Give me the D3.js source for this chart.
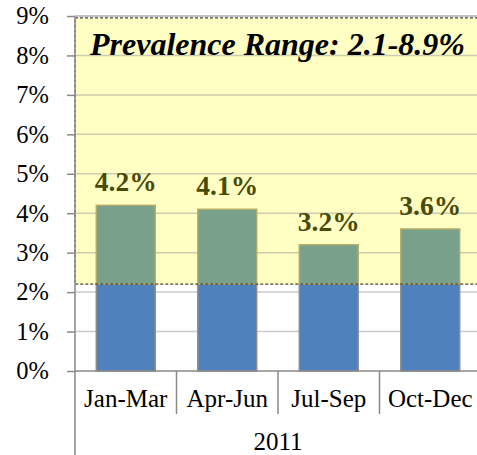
<!DOCTYPE html>
<html>
<head>
<meta charset="UTF-8">
<script src="https://cdn.jsdelivr.net/npm/d3@7"></script>
<style>
  body { margin: 0; background: #fff; }
  svg text { font-family: 'Liberation Serif', 'Times New Roman', serif; }
</style>
</head>
<body>
<div id="chart"></div>
<script>
var categories = ["Jan-Mar", "Apr-Jun", "Jul-Sep", "Oct-Dec"];
var totals = [4.2, 4.1, 3.2, 3.6];
var baseValues = [2.2, 2.2, 2.2, 2.2];
var rangeBand = [2.2, 8.95];
var yTicks = [0, 1, 2, 3, 4, 5, 6, 7, 8, 9];
var groupLabel = "2011";
var rangeTitle = "Prevalence Range: 2.1-8.9%";

var W = 477, H = 455;
var svg = d3.select("#chart").append("svg").attr("width", W).attr("height", H);

var y = d3.scaleLinear().domain([0, 9]).range([371, 16]);
var x = d3.scaleBand().domain(categories).range([75, 481]).padding(0);
var bw = x.bandwidth() * 0.58;

// yellow prevalence band
svg.append("rect")
  .attr("x", 75).attr("y", y(rangeBand[1]))
  .attr("width", 481 - 75).attr("height", y(rangeBand[0]) - y(rangeBand[1]))
  .style("fill", "#ffffc4");

// gridlines
svg.selectAll("line.grid").data(yTicks.slice(1)).enter().append("line")
  .attr("class", "grid")
  .attr("x1", 75).attr("x2", W)
  .attr("y1", function(d){ return y(d); }).attr("y2", function(d){ return y(d); })
  .style("stroke", "#9a9a9a").style("stroke-opacity", 0.5).style("stroke-width", 1.5);

// blue base part
svg.selectAll("rect.base").data(categories).enter().append("rect")
  .attr("x", function(d){ return x(d) + (x.bandwidth() - bw) / 2; })
  .attr("y", function(d, i){ return y(baseValues[i]); })
  .attr("width", bw)
  .attr("height", function(d, i){ return y(0) - y(baseValues[i]); })
  .style("fill", "#4f81bd").style("stroke", "#8c8c8c").style("stroke-width", 1.5);

// green excess part
svg.selectAll("rect.top").data(categories).enter().append("rect")
  .attr("x", function(d){ return x(d) + (x.bandwidth() - bw) / 2; })
  .attr("y", function(d, i){ return y(totals[i]); })
  .attr("width", bw)
  .attr("height", function(d, i){ return y(baseValues[i]) - y(totals[i]); })
  .style("fill", "#79a08b").style("stroke", "#b3ab6a").style("stroke-width", 1.5);

// dashed border of the band
svg.append("rect")
  .attr("x", 75).attr("y", y(rangeBand[1]))
  .attr("width", 481 - 75).attr("height", y(rangeBand[0]) - y(rangeBand[1]))
  .style("fill", "none").style("stroke", "#444").style("stroke-width", 1.2)
  .style("stroke-dasharray", "3,2");

// value labels
svg.selectAll("text.val").data(categories).enter().append("text")
  .attr("x", function(d){ return x(d) + x.bandwidth() / 2; })
  .attr("y", function(d, i){ return y(totals[i]) - 14; })
  .attr("text-anchor", "middle")
  .style("font-size", "27.5px").style("font-weight", "bold").style("fill", "#4a4a08")
  .text(function(d, i){ return totals[i].toFixed(1) + "%"; });

// title in band
svg.append("text")
  .attr("x", 90).attr("y", 55)
  .style("font-size", "32px").style("font-weight", "bold").style("font-style", "italic")
  .style("fill", "#000")
  .text(rangeTitle);

// y axis
var yAxis = d3.axisLeft(y).tickValues(yTicks).tickSize(8).tickPadding(18)
  .tickFormat(function(d){ return d + "%"; });
var ga = svg.append("g").attr("transform", "translate(75,0)").call(yAxis);
ga.select(".domain").remove();
ga.selectAll(".tick line").style("stroke", "#888").style("stroke-width", 1.5);
ga.selectAll(".tick text").style("fill", "#000").style("font-size", "24.5px");

// axis lines
svg.append("line").attr("x1", 75).attr("x2", 75).attr("y1", y(9)).attr("y2", H)
  .style("stroke", "#888").style("stroke-width", 1.5);
svg.append("line").attr("x1", 75).attr("x2", W).attr("y1", y(0)).attr("y2", y(0))
  .style("stroke", "#888").style("stroke-width", 1.5);
svg.append("line").attr("x1", 75).attr("x2", W).attr("y1", y(9)).attr("y2", y(9))
  .style("stroke", "#bbb").style("stroke-width", 1.5);

// category separators
svg.selectAll("line.sep").data(categories.slice(1)).enter().append("line")
  .attr("x1", function(d){ return x(d); }).attr("x2", function(d){ return x(d); })
  .attr("y1", y(0)).attr("y2", 414)
  .style("stroke", "#888").style("stroke-width", 1.5);

// category labels
svg.selectAll("text.cat").data(categories).enter().append("text")
  .attr("x", function(d){ return x(d) + x.bandwidth() / 2; })
  .attr("y", 407)
  .attr("text-anchor", "middle")
  .style("font-size", "25px")
  .text(function(d){ return d; });

svg.append("text")
  .attr("x", (75 + 481) / 2).attr("y", 450)
  .attr("text-anchor", "middle")
  .style("font-size", "25px")
  .text(groupLabel);
</script>
</body>
</html>
